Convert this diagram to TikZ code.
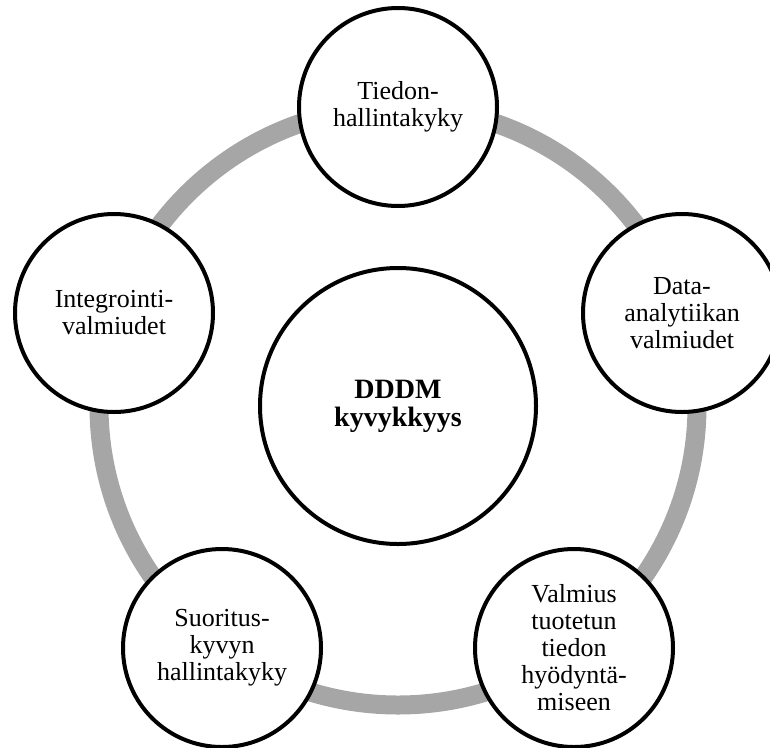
\documentclass[tikz,border=0pt]{standalone}
\usepackage{fontspec}
\setmainfont{Liberation Serif}
\definecolor{ringgray}{RGB}{166,166,166}
\begin{document}
\begin{tikzpicture}[x=1pt,y=-1pt,
  outer/.style={circle, draw=black, line width=4pt, fill=white,
    minimum size=198pt, inner sep=0pt, align=center,
    font=\fontsize{26}{27}\selectfont},
  core/.style={circle, draw=black, line width=4pt, fill=white,
    minimum size=276pt, inner sep=0pt, align=center,
    font=\fontsize{28}{28}\selectfont\bfseries},
  ring/.style={draw=ringgray, line width=19pt}]
\useasboundingbox (0,0) rectangle (770,747);
\clip (0,0) rectangle (770,747);
% common centre of the cycle
\coordinate (c) at (398,406);
\draw[ring] (c) circle[radius=299];
% capability circles around the cycle
\node[outer] (tiedon) at (398,107) {Tiedon-\\hallintakyky};
\node[outer] (data) at (682,313) {Data-\\analytiikan\\valmiudet};
\node[outer] (valmius) at (574,648) {Valmius\\tuotetun\\tiedon\\hyödyntä-\\miseen};
\node[outer] (suoritus) at (222,648) {Suoritus-\\kyvyn\\hallintakyky};
\node[outer] (integ) at (114,313) {Integrointi-\\valmiudet};
% central capability
\node[core] (dddm) at (c) {DDDM\\kyvykkyys};
\end{tikzpicture}
\end{document}
